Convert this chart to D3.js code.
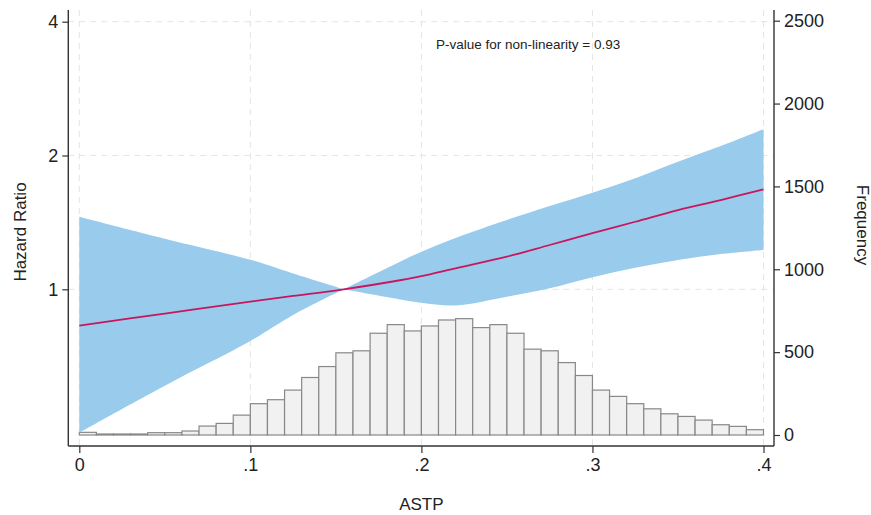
<!DOCTYPE html>
<html lang="en">
<head>
  <meta charset="UTF-8">
  <title>Hazard ratio by ASTP</title>
  <script src="https://d3js.org/d3.v7.min.js"></script>
  <style>
    body { margin: 0; background: #fff; }
    text { font-family: Arial, "Liberation Sans", sans-serif; fill: #222; }
  </style>
</head>
<body>
<div id="chart"></div>
<script>
  // Spline estimates; reference point at 0.1545 where HR = 1
  const astp  = [0, 0.05, 0.1, 0.125, 0.1545, 0.1875, 0.2, 0.22, 0.25, 0.275, 0.3, 0.325, 0.35, 0.375, 0.4];
  const hr    = [0.828, 0.882, 0.938, 0.966, 1.0, 1.048, 1.071, 1.115, 1.184, 1.258, 1.337, 1.419, 1.508, 1.588, 1.679];
  const upper = [1.457, 1.300, 1.165, 1.085, 1.0, 1.154, 1.215, 1.305, 1.432, 1.540, 1.650, 1.778, 1.937, 2.100, 2.291];
  const lower = [0.476, 0.607, 0.765, 0.875, 1.0, 0.949, 0.933, 0.920, 0.962, 1.005, 1.064, 1.118, 1.164, 1.200, 1.226];
  const refIndex = 4;

  // Histogram of ASTP, bins of width 0.01 from 0 to 0.4
  const binWidth = 0.01;
  const freq = [16, 6, 6, 6, 14, 14, 24, 54, 70, 120,
                189, 213, 271, 347, 413, 496, 508, 614, 666, 628,
                658, 694, 702, 648, 666, 614, 518, 508, 437, 359,
                271, 233, 189, 158, 128, 112, 90, 62, 52, 32];

  const xTicks = [0, 0.1, 0.2, 0.3, 0.4];
  const xTickLabels = ['0', '.1', '.2', '.3', '.4'];
  const hrTicks = [1, 2, 4];
  const freqTicks = [0, 500, 1000, 1500, 2000, 2500];

  const W = 871, H = 515;
  const plot = { left: 68.3, right: 774, top: 10, bottom: 446 };

  const x = d3.scaleLinear().domain([0, 0.4]).range([79.3, 763.5]);
  const y = d3.scaleLog().domain([1, 4]).range([289.3, 21.7]);
  const yf = d3.scaleLinear().domain([0, 2500]).range([435, 20.7]);

  const svg = d3.select('#chart').append('svg')
    .attr('width', W)
    .attr('height', H);

  // grid lines
  const grid = svg.append('g')
    .attr('stroke', '#e4e4e4')
    .attr('stroke-width', 1)
    .attr('stroke-dasharray', '6 5');
  grid.selectAll('.gx').data(xTicks).enter().append('line')
    .attr('x1', d => x(d)).attr('x2', d => x(d))
    .attr('y1', plot.top).attr('y2', plot.bottom);
  grid.selectAll('.gy').data(hrTicks).enter().append('line')
    .attr('x1', plot.left).attr('x2', plot.right)
    .attr('y1', d => y(d)).attr('y2', d => y(d));

  // histogram
  svg.append('g').selectAll('rect')
    .data(freq)
    .enter().append('rect')
    .attr('x', (d, i) => x(i * binWidth))
    .attr('width', (d, i) => x((i + 1) * binWidth) - x(i * binWidth))
    .attr('y', d => yf(d))
    .attr('height', d => yf(0) - yf(d))
    .attr('fill', '#f1f1f1')
    .attr('stroke', '#888')
    .attr('stroke-width', 1.2);

  const pts = astp.map((a, i) => ({ a, hr: hr[i], lo: lower[i], hi: upper[i] }));
  // the band pinches at the reference value, so draw each side on its own
  const leftPts = pts.slice(0, refIndex + 1);
  const rightPts = pts.slice(refIndex);

  const area = d3.area()
    .x(d => x(d.a))
    .y0(d => y(d.lo))
    .y1(d => y(d.hi))
    .curve(d3.curveCatmullRom.alpha(0.5));
  svg.selectAll('.band')
    .data([leftPts, rightPts])
    .enter().append('path')
    .attr('fill', '#99cbec')
    .attr('d', area);

  // hazard ratio line
  const line = d3.line()
    .x(d => x(d.a))
    .y(d => y(d.hr))
    .curve(d3.curveCatmullRom.alpha(0.5));
  svg.append('path')
    .datum(pts)
    .attr('fill', 'none')
    .attr('stroke', '#c8175d')
    .attr('stroke-width', 1.8)
    .attr('d', line);

  // axes
  const axisStyle = g => {
    g.select('.domain').remove();
    g.selectAll('.tick line').attr('stroke', '#333').attr('stroke-width', 1.2);
    g.selectAll('.tick text').style('font-size', '18px').attr('fill', '#222');
  };

  svg.append('g')
    .attr('transform', `translate(${plot.left},0)`)
    .call(d3.axisLeft(y).tickValues(hrTicks).tickFormat(d3.format('d')).tickSizeOuter(0).tickSize(6).tickPadding(4))
    .call(axisStyle);

  svg.append('g')
    .attr('transform', `translate(${plot.right},0)`)
    .call(d3.axisRight(yf).tickValues(freqTicks).tickFormat(d3.format('d')).tickSizeOuter(0).tickSize(6).tickPadding(4))
    .call(axisStyle);

  svg.append('g')
    .attr('transform', `translate(0,${plot.bottom})`)
    .call(d3.axisBottom(x).tickValues(xTicks).tickFormat((d, i) => xTickLabels[i]).tickSize(7).tickPadding(5))
    .call(axisStyle);

  // axis lines
  const frame = svg.append('g').attr('stroke', '#333').attr('stroke-width', 1.4).attr('fill', 'none');
  frame.append('line').attr('x1', plot.left).attr('x2', plot.left).attr('y1', plot.top).attr('y2', plot.bottom);
  frame.append('line').attr('x1', plot.right).attr('x2', plot.right).attr('y1', plot.top).attr('y2', plot.bottom);
  frame.append('line').attr('x1', plot.left).attr('x2', plot.right).attr('y1', plot.bottom).attr('y2', plot.bottom);

  // titles
  svg.append('text')
    .attr('transform', 'translate(26,232) rotate(-90)')
    .attr('text-anchor', 'middle')
    .style('font-size', '17px')
    .text('Hazard Ratio');

  svg.append('text')
    .attr('transform', 'translate(857,225) rotate(90)')
    .attr('text-anchor', 'middle')
    .style('font-size', '17px')
    .text('Frequency');

  svg.append('text')
    .attr('x', x(0.2))
    .attr('y', 510)
    .attr('text-anchor', 'middle')
    .style('font-size', '17px')
    .text('ASTP');

  svg.append('text')
    .attr('x', 436)
    .attr('y', 49)
    .style('font-size', '13.5px')
    .text('P-value for non-linearity = 0.93');
</script>
</body>
</html>
